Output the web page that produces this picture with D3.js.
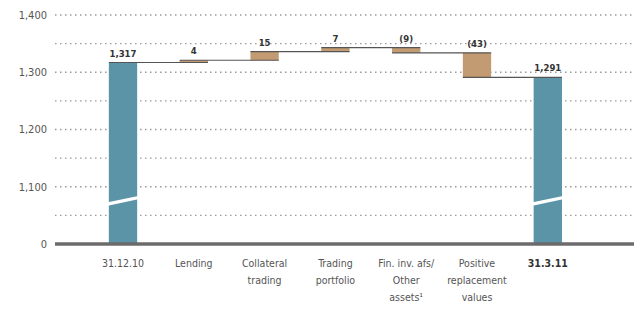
<!DOCTYPE html>
<html>
<head>
<meta charset="utf-8">
<script src="https://cdn.jsdelivr.net/npm/d3@7"></script>
<style>
  body { margin: 0; background: #fff; }
  svg { display: block; }
  .tick-label { font-family: "DejaVu Sans Condensed", "Open Sans", sans-serif; font-size: 11px; fill: #555; }
  .cat-label { font-family: "DejaVu Sans Condensed", "Open Sans", sans-serif; font-size: 10.5px; fill: #555; }
  .val-label { font-family: "DejaVu Sans Condensed", "Open Sans", sans-serif; font-size: 9.5px; font-weight: bold; fill: #333; }
</style>
</head>
<body>
<svg id="chart"></svg>
<script>
// Waterfall data (EUR bn)
const categories = ["31.12.10", "Lending", "Collateral trading", "Trading portfolio", "Fin. inv. afs/ Other assets", "Positive replacement values", "31.3.11"];
const catLines = [["31.12.10"], ["Lending"], ["Collateral", "trading"], ["Trading", "portfolio"], ["Fin. inv. afs/", "Other", "assets¹"], ["Positive", "replacement", "values"], ["31.3.11"]];
const values = [1317, 4, 15, 7, -9, -43, 1291];
const valueLabels = ["1,317", "4", "15", "7", "(9)", "(43)", "1,291"];
const isTotal = [true, false, false, false, false, false, true];
const tickValues = [1000, 1100, 1200, 1300, 1400];
const tickLabels = ["0", "1,100", "1,200", "1,300", "1,400"];
const gridValues = [1050, 1100, 1150, 1200, 1250, 1300, 1350, 1400];

const width = 634, height = 313;
const svg = d3.select("#chart").attr("width", width).attr("height", height);

// broken axis: the "0" baseline sits where 1,000 would be
const y = d3.scaleLinear().domain([1000, 1400]).range([244, 15]);
const x = d3.scaleBand().domain(categories).range([87.6, 583.2]).paddingInner(0.6).paddingOuter(0.3);

// running totals
const bars = [];
let running = 0;
values.forEach((v, i) => {
  if (isTotal[i]) {
    bars.push({ cat: categories[i], y0: 1000, y1: v, start: v, end: v, total: true, label: valueLabels[i] });
    running = v;
  } else {
    bars.push({ cat: categories[i], y0: running, y1: running + v, start: running, end: running + v, total: false, label: valueLabels[i] });
    running += v;
  }
});

// dotted grid
svg.append("g").selectAll("line")
  .data(gridValues)
  .enter().append("line")
  .attr("x1", 55).attr("x2", width)
  .attr("y1", d => y(d)).attr("y2", d => y(d))
  .attr("stroke", "#9a9a9a").attr("stroke-width", 1.4)
  .attr("stroke-dasharray", "1.5,3.5");

// y tick labels
svg.append("g").selectAll("text")
  .data(tickValues)
  .enter().append("text")
  .attr("class", "tick-label")
  .attr("x", 47).attr("y", d => y(d))
  .attr("dy", "0.35em").attr("text-anchor", "end")
  .text((d, i) => tickLabels[i]);

// bars
svg.append("g").selectAll("rect")
  .data(bars)
  .enter().append("rect")
  .attr("x", d => x(d.cat))
  .attr("width", x.bandwidth())
  .attr("y", d => y(Math.max(d.y0, d.y1)))
  .attr("height", d => Math.abs(y(d.y0) - y(d.y1)))
  .attr("fill", d => d.total ? "#5b93a7" : "#c39b72");

// break marks on the total bars
bars.filter(d => d.total).forEach(d => {
  const bx = x(d.cat) - 1, bw = x.bandwidth() + 2;
  svg.append("polygon")
    .attr("points", [
      [bx, y(1073)], [bx + bw, y(1084)],
      [bx + bw, y(1078)], [bx, y(1067)]
    ].map(p => p.join(",")).join(" "))
    .attr("fill", "#fff");
});

// connectors between bars
const conn = [];
for (let i = 0; i < bars.length - 1; i++) {
  conn.push({ from: bars[i].cat, to: bars[i + 1].cat, level: bars[i].end });
}
svg.append("g").selectAll("line")
  .data(conn)
  .enter().append("line")
  .attr("x1", d => x(d.from))
  .attr("x2", d => x(d.to) + x.bandwidth())
  .attr("y1", d => y(d.level)).attr("y2", d => y(d.level))
  .attr("stroke", "#555").attr("stroke-width", 1.2);

// value labels
svg.append("g").selectAll("text")
  .data(bars)
  .enter().append("text")
  .attr("class", "val-label")
  .attr("x", d => x(d.cat) + x.bandwidth() / 2)
  .attr("y", d => y(Math.max(d.y0, d.y1)) - 6)
  .attr("text-anchor", "middle")
  .text(d => d.label);

// baseline
svg.append("line")
  .attr("x1", 55).attr("x2", width)
  .attr("y1", y(1000)).attr("y2", y(1000))
  .attr("stroke", "#6b6b6b").attr("stroke-width", 3.5);

// category labels
const catG = svg.append("g");
categories.forEach((c, i) => {
  const t = catG.append("text")
    .attr("class", "cat-label")
    .attr("x", x(c) + x.bandwidth() / 2)
    .attr("y", 267)
    .attr("text-anchor", "middle")
    .style("font-weight", i === categories.length - 1 ? "bold" : "normal")
    .style("fill", i === categories.length - 1 ? "#333" : null);
  catLines[i].forEach((line, j) => {
    t.append("tspan")
      .attr("x", x(c) + x.bandwidth() / 2)
      .attr("dy", j === 0 ? 0 : 17)
      .text(line);
  });
});
</script>
</body>
</html>
